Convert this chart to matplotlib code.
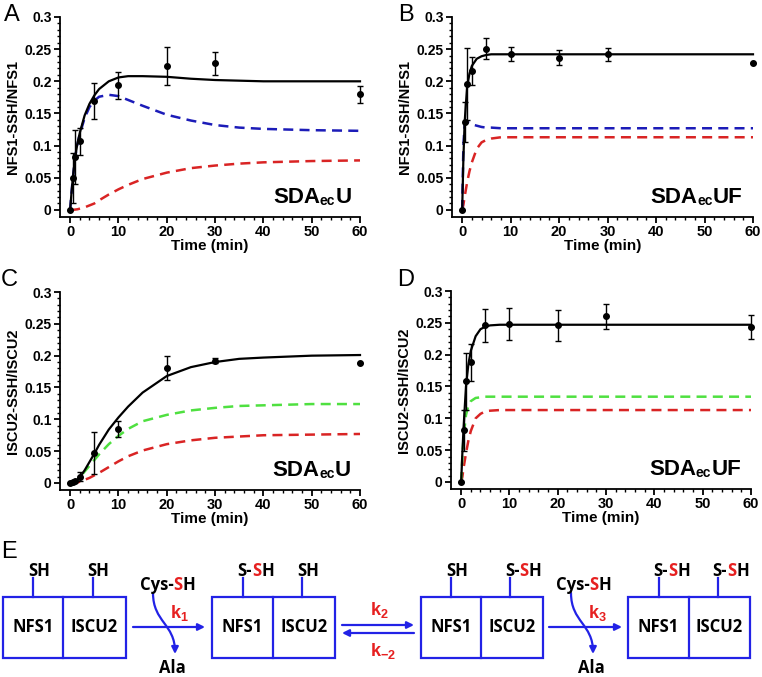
import matplotlib
matplotlib.use("Agg")
from matplotlib import pyplot as plt
from matplotlib.patches import FancyArrowPatch, Rectangle
from matplotlib.path import Path
import numpy as np

plt.rcParams['font.family'] = 'Liberation Sans'
plt.rcParams['font.weight'] = 'bold'
plt.rcParams['axes.labelweight'] = 'bold'
plt.rcParams['mathtext.fontset'] = 'custom'
plt.rcParams['mathtext.bf'] = 'Liberation Sans:bold'
plt.rcParams['mathtext.rm'] = 'Liberation Sans:bold'

# measured points (time in min)
t_obs = [0, 0.5, 1, 2, 5, 10, 20, 30, 60]
a_obs = [0, 0.050, 0.083, 0.107, 0.170, 0.194, 0.224, 0.228, 0.180]
a_err = [0, 0.039, 0.042, 0.021, 0.028, 0.021, 0.030, 0.018, 0.013]
b_obs = [0, 0.137, 0.196, 0.216, 0.251, 0.243, 0.237, 0.242, 0.228]
b_err = [0, 0.031, 0.056, 0.022, 0.016, 0.011, 0.011, 0.010, 0.0]
c_obs = [0, 0.001, 0.003, 0.010, 0.047, 0.085, 0.180, 0.192, 0.188]
c_err = [0, 0, 0, 0.007, 0.033, 0.012, 0.019, 0.004, 0]
d_obs = [0, 0.081, 0.158, 0.188, 0.246, 0.248, 0.246, 0.260, 0.244]
d_err = [0, 0.032, 0.045, 0.029, 0.026, 0.025, 0.024, 0.019, 0.019]

# model curves
t_fit = [0, 0.25, 0.5, 1, 1.5, 2, 3, 4, 5, 6, 8, 10, 12, 15, 20, 25, 30, 35, 40, 50, 60]
a_total = [0, 0.024, 0.045, 0.080, 0.103, 0.120, 0.147, 0.165, 0.178, 0.188, 0.200,
           0.206, 0.208, 0.208, 0.207, 0.204, 0.202, 0.201, 0.200, 0.200, 0.200]
a_single = [0, 0.024, 0.045, 0.080, 0.102, 0.118, 0.143, 0.160, 0.170, 0.176, 0.179,
            0.177, 0.171, 0.162, 0.148, 0.139, 0.132, 0.128, 0.126, 0.124, 0.123]
a_double = [0, 0, 0, 0.0005, 0.001, 0.002, 0.004, 0.007, 0.010, 0.015, 0.024,
            0.032, 0.039, 0.048, 0.058, 0.065, 0.069, 0.072, 0.074, 0.076, 0.077]
b_total = [0, 0.080, 0.135, 0.190, 0.212, 0.224, 0.235, 0.239, 0.241, 0.242, 0.242,
           0.242, 0.242, 0.242, 0.242, 0.242, 0.242, 0.242, 0.242, 0.242, 0.242]
b_single = [0, 0.100, 0.132, 0.137, 0.135, 0.133, 0.131, 0.129, 0.128, 0.128, 0.127,
            0.127, 0.127, 0.127, 0.127, 0.127, 0.127, 0.127, 0.127, 0.127, 0.127]
b_double = [0, 0.008, 0.020, 0.042, 0.060, 0.074, 0.095, 0.105, 0.109, 0.111, 0.113,
            0.113, 0.113, 0.113, 0.113, 0.113, 0.113, 0.113, 0.113, 0.113, 0.113]
c_total = [0, 0, 0.0005, 0.002, 0.005, 0.009, 0.020, 0.033, 0.046, 0.060, 0.084,
           0.103, 0.120, 0.142, 0.168, 0.182, 0.190, 0.195, 0.197, 0.200, 0.201]
c_single = [0, 0, 0.0005, 0.002, 0.005, 0.009, 0.018, 0.027, 0.036, 0.045, 0.061,
            0.074, 0.085, 0.097, 0.107, 0.114, 0.118, 0.121, 0.122, 0.124, 0.124]
c_double = [0, 0, 0, 0.0005, 0.001, 0.002, 0.005, 0.008, 0.012, 0.016, 0.025,
            0.034, 0.042, 0.051, 0.061, 0.067, 0.071, 0.073, 0.075, 0.076, 0.077]
d_total = [0, 0.045, 0.085, 0.150, 0.185, 0.206, 0.229, 0.240, 0.244, 0.246, 0.247,
           0.247, 0.247, 0.247, 0.247, 0.247, 0.247, 0.247, 0.247, 0.247, 0.247]
d_single = [0, 0.040, 0.070, 0.105, 0.120, 0.127, 0.132, 0.133, 0.134, 0.134, 0.134,
            0.134, 0.134, 0.134, 0.134, 0.134, 0.134, 0.134, 0.134, 0.134, 0.134]
d_double = [0, 0.008, 0.022, 0.045, 0.065, 0.080, 0.100, 0.107, 0.111, 0.112, 0.113,
            0.113, 0.113, 0.113, 0.113, 0.113, 0.113, 0.113, 0.113, 0.113, 0.113]

y_ticks = [0, 0.05, 0.1, 0.15, 0.2, 0.25, 0.3]
y_ticklabels = ['0', '0.05', '0.1', '0.15', '0.2', '0.25', '0.3']
x_ticks = [0, 10, 20, 30, 40, 50, 60]
x_ticklabels = ['0', '10', '20', '30', '40', '50', '60']

BLUE = '#1c1cb8'
RED = '#d92424'
GREEN = '#4fe040'
DBLUE = '#2222e6'
TRED = '#e62020'

W, H = 762, 677
fig = plt.figure(figsize=(W / 100, H / 100), dpi=100)


def px_axes(l, t, r, b):
    return fig.add_axes([l / W, 1 - b / H, (r - l) / W, (b - t) / H])


panels = [
    ('A', (60, 17, 360, 217), a_obs, a_err, a_total, a_single, BLUE, 'NFS1-SSH/NFS1', 'U', (12, 15), 0.71),
    ('B', (452, 17, 753, 217), b_obs, b_err, b_total, b_single, BLUE, 'NFS1-SSH/NFS1', 'UF', (406, 15), 0.66),
    ('C', (60, 292, 360, 490), c_obs, c_err, c_total, c_single, GREEN, 'ISCU2-SSH/ISCU2', 'U', (9, 280), 0.707),
    ('D', (451, 291, 751, 489), d_obs, d_err, d_total, d_single, GREEN, 'ISCU2-SSH/ISCU2', 'UF', (406, 280), 0.66),
]
doubles = [a_double, b_double, c_double, d_double]

for (letter, box, obs, err, total, single, scol, ylab, suffix, lpos, tx), dbl in zip(panels, doubles):
    ax = px_axes(*box)
    ax.plot(t_fit, dbl, color=RED, lw=1.8, ls=(0, (4, 2.5)), clip_on=False)
    ax.plot(t_fit, single, color=scol, lw=1.8, ls=(0, (4, 2.5)), clip_on=False)
    ax.plot(t_fit, total, color='black', lw=1.6, clip_on=False)
    eb = ax.errorbar(t_obs, obs, yerr=err, fmt='o', color='black', ms=4,
                     capsize=2.5, elinewidth=1, capthick=1, zorder=5)
    for ch in eb.get_children():
        ch.set_clip_on(False)
    ax.set_xlim(-2.1, 60)
    ax.set_ylim(-0.011, 0.3)
    ax.spines[['top', 'right']].set_visible(False)
    for s in ['left', 'bottom']:
        ax.spines[s].set_linewidth(1.3)
    ax.set_xticks(x_ticks)
    ax.set_xticklabels(x_ticklabels, fontweight='bold', fontsize=10.5)
    ax.set_xticks(np.arange(0, 61, 2), minor=True)
    ax.set_yticks(y_ticks)
    ax.set_yticklabels(y_ticklabels, fontweight='bold', fontsize=10)
    ax.set_yticks(np.arange(0, 0.301, 0.01), minor=True)
    ax.tick_params(which='major', length=4, width=1.3, pad=2)
    ax.tick_params(which='minor', length=2.3, width=1.0)
    ax.set_xlabel('Time (min)', fontsize=11, fontweight='bold', labelpad=0)
    ax.set_ylabel(ylab, fontsize=10.5, fontweight='bold', labelpad=3)
    # construct name: SDA + small "ec" + U / UF
    t1 = ax.text(tx, 0.07, 'SDA', transform=ax.transAxes, ha='left', va='baseline',
                 fontsize=16, fontweight='bold')
    t2 = ax.annotate('ec', xy=(1, 0), xycoords=t1, ha='left', va='bottom',
                     fontsize=10, fontweight='bold')
    ax.annotate(suffix, xy=(1, 0), xycoords=t2, ha='left', va='bottom',
                fontsize=16, fontweight='bold')
    fig.text(lpos[0] / W, 1 - lpos[1] / H, letter, fontsize=17, fontweight='normal',
             ha='center', va='center')

# ---- panel E: reaction scheme, drawn in pixel coordinates ----
ex = fig.add_axes([0, 0, 1, (H - 530) / H])
ex.set_xlim(0, W)
ex.set_ylim(H, 530)
ex.axis('off')
fig.text(9 / W, 1 - 552 / H, 'E', fontsize=17, fontweight='normal', ha='center', va='center')

dfont = dict(family='Open Sans', weight='bold', fontsize=12)

complexes = [
    # left, divider, right, NFS1 group, ISCU2 group
    (3, 63, 126, 'SH', 'SH'),
    (212, 273, 335, 'S-SH', 'SH'),
    (421, 481, 543, 'SH', 'S-SH'),
    (628, 689, 750, 'S-SH', 'S-SH'),
]
box_top, box_bot = 597, 658


def rich_text(x, y, parts):
    prev = None
    for s, c in parts:
        if prev is None:
            prev = ex.text(x, y, s, color=c, ha='left', va='baseline', **dfont)
        else:
            prev = ex.annotate(s, xy=(1, 0), xycoords=prev, color=c,
                               ha='left', va='bottom', **dfont)


def group_label(x, y, label):
    if label == 'SH':
        rich_text(x, y, [('SH', 'black')])
    else:
        rich_text(x, y, [('S-', 'black'), ('S', TRED), ('H', 'black')])


for l, d, r, g1, g2 in complexes:
    ex.add_patch(Rectangle((l, box_top), r - l, box_bot - box_top, fill=False,
                           ec=DBLUE, lw=1.6))
    ex.plot([d, d], [box_top, box_bot], color=DBLUE, lw=1.6)
    c1 = (l + d) / 2
    c2 = (d + r) / 2 - 2
    ex.text(c1, (box_top + box_bot) / 2, 'NFS1', ha='center', va='center', **dfont)
    ex.text(c2 + 2, (box_top + box_bot) / 2, 'ISCU2', ha='center', va='center', **dfont)
    for cx, g in [(c1, g1), (c2, g2)]:
        ex.plot([cx, cx], [box_top, 578], color=DBLUE, lw=1.6)
        group_label(cx - 5, 576, g)


def straight_arrow(x0, x1, y):
    ex.add_patch(FancyArrowPatch((x0, y), (x1, y), arrowstyle='-|>', mutation_scale=10,
                                 color=DBLUE, lw=1.6, shrinkA=0, shrinkB=0))


def cys_arrow(x0):
    verts = [(x0, 593), (x0, 622), (x0 + 22, 624), (x0 + 22, 654)]
    p = Path(verts, [Path.MOVETO, Path.CURVE4, Path.CURVE4, Path.CURVE4])
    ex.add_patch(FancyArrowPatch(path=p, arrowstyle='-|>', mutation_scale=10,
                                 color=DBLUE, lw=1.6))


# k1 step
straight_arrow(133, 205, 627)
cys_arrow(153)
rich_text(140, 590, [('Cys-', 'black'), ('S', TRED), ('H', 'black')])
ex.text(172, 668, 'Ala', ha='center', va='center', **dfont)
ex.text(170, 618, r'$\mathbf{k_1}$', color=TRED, ha='left', va='baseline', fontsize=13)

# k2 / k-2 equilibrium
straight_arrow(342, 414, 625)
straight_arrow(414, 342, 633)
ex.text(370, 615, r'$\mathbf{k_2}$', color=TRED, ha='left', va='baseline', fontsize=13)
ex.text(370, 656, r'$\mathbf{k_{-2}}$', color=TRED, ha='left', va='baseline', fontsize=13)

# k3 step
straight_arrow(549, 622, 627)
cys_arrow(571)
rich_text(556, 590, [('Cys-', 'black'), ('S', TRED), ('H', 'black')])
ex.text(591, 668, 'Ala', ha='center', va='center', **dfont)
ex.text(588, 618, r'$\mathbf{k_3}$', color=TRED, ha='left', va='baseline', fontsize=13)

fig.savefig('out.png', dpi=100)
